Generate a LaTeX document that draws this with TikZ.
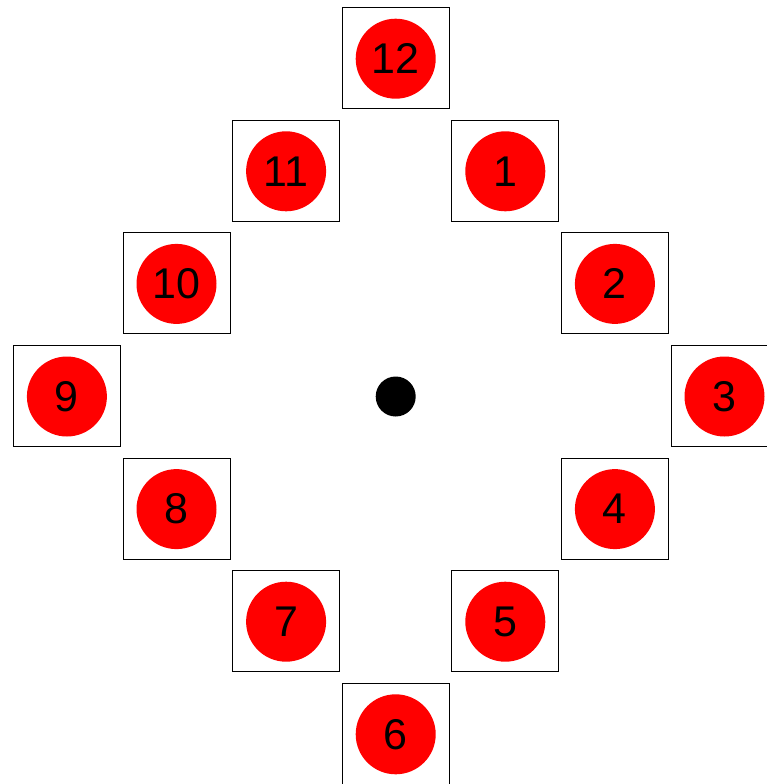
\documentclass[tikz,border=0pt]{standalone}
\usepackage{fontspec}
\setmainfont{Liberation Sans}
\begin{document}
\begin{tikzpicture}[x=1pt,y=-1pt,
  frame/.style={draw=black, line width=0.9pt, minimum width=107pt, minimum height=101pt, inner sep=0pt, anchor=center},
  ball/.style={circle, fill=red, minimum size=80pt, inner sep=0pt, font=\fontsize{43}{43}\selectfont},
  hub/.style={circle, fill=black, minimum size=40pt, inner sep=0pt}]
\useasboundingbox (0,0) rectangle (767,784);
\clip (0,0) rectangle (767,784);
\def\cx{395.7}\def\cy{396.5}\def\dx{109.6}\def\dy{112.6}
\foreach \n/\i/\j in {12/0/-3, 1/1/-2, 2/2/-1, 3/3/0, 4/2/1, 5/1/2, 6/0/3, 7/-1/2, 8/-2/1, 9/-3/0, 10/-2/-1, 11/-1/-2}{
  \node[frame] (f\n) at ({\cx+\i*\dx},{\cy+\j*\dy-0.5}) {};
  \node[ball] (b\n) at ({\cx+\i*\dx},{\cy+\j*\dy}) {\n};
}
\node[hub] (hub) at (\cx,\cy) {};
\end{tikzpicture}
\end{document}
